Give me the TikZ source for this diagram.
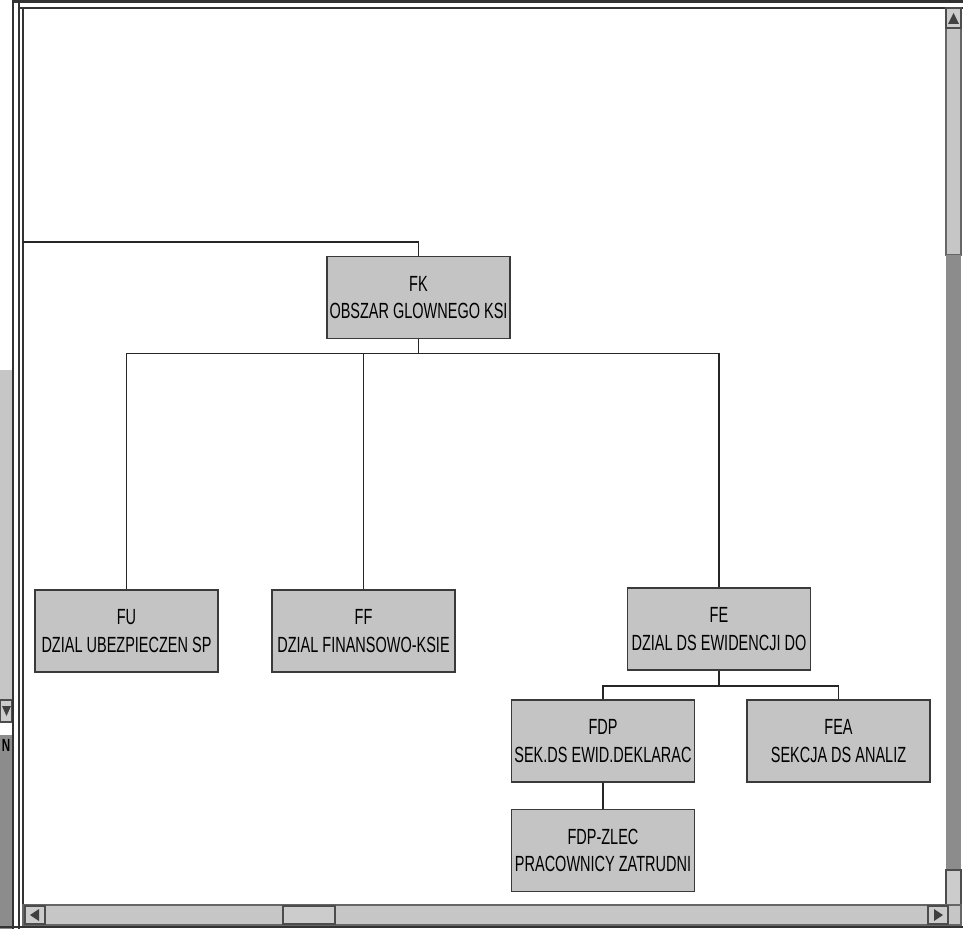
\documentclass[tikz,border=0pt]{standalone}
\usepackage{fontspec}
\setmainfont{Liberation Sans}[FakeStretch=0.66]
\usepackage{tikz}
\usetikzlibrary{positioning,calc,patterns}
\definecolor{BoxGrey}{HTML}{C4C4C4}
\definecolor{EdgeDark}{HTML}{3A3A3A}
\definecolor{BarLight}{HTML}{C6C6C6}
\definecolor{BarDark}{HTML}{8C8C8C}

\begin{document}
\begin{tikzpicture}[x=0.02cm, y=-0.02cm,
  unit/.style={rectangle, draw=EdgeDark, fill=BoxGrey, line width=1.1pt, minimum width=3.66cm, minimum height=1.64cm, align=center, inner sep=0pt, font=\fontsize{12.5}{15.5}\selectfont},
  link/.style={draw=black!85, line width=0.8pt},
  frame/.style={draw=black!80, line width=1.2pt},
  bar/.style={draw=black!60, fill=BarLight, line width=0.6pt},
  btn/.style={draw=black!70, fill=black!20, line width=0.8pt}
]
  \useasboundingbox (0,0) rectangle (963,929);
  \fill[white] (0,0) rectangle (963,929);

  % Window frame and scroll bars
  \fill[BarLight] (0,370) rectangle (12,700);
  \fill[BarDark] (0,735) rectangle (12,929);
  \draw[btn] (0,700) rectangle (12,722);
  \fill[black!75] (2,706) -- (11,706) -- (6.5,716) -- cycle;
  \node[font=\fontsize{10}{10}\selectfont\bfseries, inner sep=0pt] (nmark) at (6,745) {N};
  \draw[frame] (13,0) -- (13,929);
  \draw[frame] (19,2) -- (19,929);
  \draw[frame] (13,1.5) -- (963,1.5);
  \draw[frame] (19,8) -- (963,8);
  \draw[frame] (23,8) -- (23,905);
  \draw[bar] (946,28) rectangle (961,255);
  \fill[BarDark] (946,255) rectangle (961,870);
  \draw[btn] (946,8) rectangle (961,28);
  \fill[black!75] (948,24) -- (959,24) -- (953.5,13) -- cycle;
  \draw[btn] (946,870) rectangle (961,905);
  \draw[bar] (23,905) rectangle (961,925);
  \draw[btn] (25,906) rectangle (45,924);
  \fill[black!75] (39,909) -- (39,921) -- (30,915) -- cycle;
  \draw[btn] (283,906) rectangle (335,924);
  \draw[btn] (928,906) rectangle (948,924);
  \fill[black!75] (934,909) -- (934,921) -- (943,915) -- cycle;
  \draw[frame] (0,927) -- (963,927);

  % Nodes
  \node[unit] (fk) at (418.5,297.5) {FK\\OBSZAR GLOWNEGO KSI};
  \node[unit] (fu) at (126.5,631) {FU\\DZIAL UBEZPIECZEN SP};
  \node[unit] (ff) at (363.5,631) {FF\\DZIAL FINANSOWO-KSIE};
  \node[unit] (fe) at (719,629) {FE\\DZIAL DS EWIDENCJI DO};
  \node[unit] (fdp) at (603,741) {FDP\\SEK.DS EWID.DEKLARAC};
  \node[unit] (fea) at (838.5,741) {FEA\\SEKCJA DS ANALIZ};
  \node[unit] (fdpz) at (603,850.5) {FDP-ZLEC\\PRACOWNICY ZATRUDNI};
  \coordinate (upper) at (23,242);

  % Connections
  \draw[link] (upper) -| (fk.north);
  \draw[link] (fk.south) -- ++(0,14) -| (fu.north);
  \draw[link] (fk.south) -- ++(0,14) -| (ff.north);
  \draw[link] (fk.south) -- ++(0,14) -| (fe.north);
  \draw[link] (fe.south) -- ++(0,15) -| (fdp.north);
  \draw[link] (fe.south) -- ++(0,15) -| (fea.north);
  \draw[link] (fdp.south) -- (fdpz.north);

\end{tikzpicture}
\end{document}
